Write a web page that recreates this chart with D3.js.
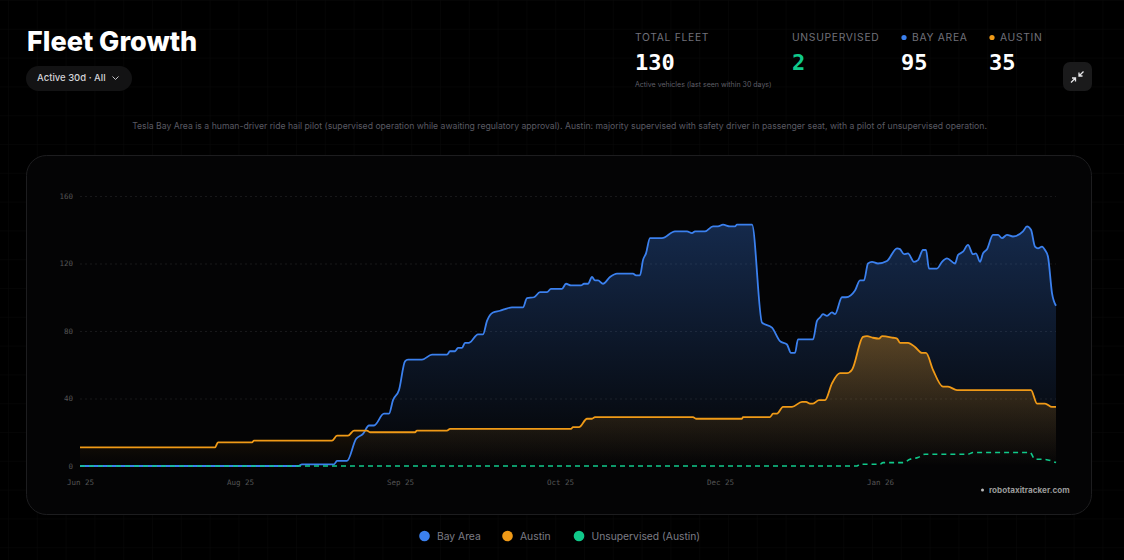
<!DOCTYPE html>
<html>
<head>
<meta charset="utf-8">
<script src="https://cdn.jsdelivr.net/npm/d3@7"></script>
<style>
  html, body { margin: 0; padding: 0; background: #000; width: 1124px; height: 560px; overflow: hidden; }
  text { font-family: Inter, sans-serif; }
  .mono { font-family: "DejaVu Sans Mono", monospace; }
</style>
</head>
<body>
<svg id="chart" width="1124" height="560"></svg>
<script>
// sample number along the x axis (one sample every 4px in the original) and value
const bayDays = [0,54.5,55.5,63.5,64.25,66.75,69,70.75,72.25,73.5,76,77.25,78.25,79.75,81.25,82,85.5,88,91.75,92.5,93.75,94.5,95.5,96.25,97.25,99.5,100.75,101.75,103.25,105,106.25,108,110.75,111.75,113.5,115,116.75,117.75,120.5,121.5,122.75,125.25,126,127,128,128.75,129.5,130.75,132.5,134.25,138.25,139,140,140.75,141.5,142.5,145.5,148.75,151.75,153,153.75,156.25,158.25,159.5,160.75,162.5,163.75,164.25,168,170.5,173,175,176.75,177.75,178.75,179.5,183.25,184.25,185,185.75,186.75,188,188.75,190.5,191.5,193.75,195,196,197,198,199.5,201.75,204.25,205,206,207,208.5,209.5,210.75,211.5,212.25,214.25,215.5,216.75,218.75,219.5,220.75,222,223.25,224,225,225.75,226.75,228.25,229.5,230.5,231.75,233.25,235.75,236.75,237.75,238.75,239.5,240.5,241.25,242,243,244];
const bayValues = [0,0,1,1,3,3,16,19,24,24,31,31,39,45,62,63,63,66,66,68,68,70,70,73,73,78,78,86,91,92,93,94,94,99.5,100,103,103,105,105,108,107,107,108,108,112,110,110,108,112,114,114,113,113,122,126,135,135,139,139,138,139,139,142,142,143,142,142,143,143,85,82,74,72,67,67,75,75,86,88,90,89,91,90,100,100,104,110,110,120,121,120,121.5,129,128.5,125.5,126,121,122,128,128,117,117,121,123,120,125,127,131,125.5,126,121,126,128.5,137,137,135,137,136,139,142,140,130,129,130,128,124,102.5,95];

const austinDays = [0,33.75,34.5,43,43.5,63,64.25,67,68.5,71.75,72.5,83.75,84.25,91.75,92.5,122.75,123.25,124.75,126.75,128,128.75,153.25,154,165.5,165.75,172.5,173.25,174.25,175.75,178,180.5,181.5,182.5,183.25,184.75,186.25,188,190,191.75,193,195.75,196.75,198.25,199.75,200.5,203.25,204.25,205,207,208.75,210.5,211.5,213.25,215.75,217,219.25,237.75,239.25,241.25,243,244];
const austinValues = [11,11,14,14,15,15,18,18,21,21,20,20,21,21,22,22,23,23,28,28,29,29,28,28,29,29,31,31,35,35,38,38,37,37,39,39,49,55,55,57,76.5,77,76,75.5,77,76,75.5,73,73,70.5,67,67,57,47,47,45,45,37,37,35,35];

const unsupDays = [0,194.25,195,200,200.75,205.75,207.5,209.5,211.25,222,223.25,237.5,238.75,240.75,244];
const unsupValues = [0,0,1,1,2,2,4,5,7,7,8,8,4,4,2];

const xTickDays = [0,40,80,120,160,200];
const xTickLabels = ["Jun 25","Aug 25","Sep 25","Oct 25","Dec 25","Jan 26"];
const yTicks = [0,40,80,120,160];

const statLabels = ["TOTAL FLEET","UNSUPERVISED","BAY AREA","AUSTIN"];
const statValues = ["130","2","95","35"];
const legendLabels = ["Bay Area","Austin","Unsupervised (Austin)"];

const BLUE = "#3b80ee", ORANGE = "#f09a17", GREEN = "#10c98a";

const svg = d3.select("#chart");
const defs = svg.append("defs");

// faint page grid
const grid = defs.append("pattern").attr("id", "pageGrid").attr("x", 8)
  .attr("width", 28.8).attr("height", 28.8).attr("patternUnits", "userSpaceOnUse");
grid.append("path").attr("d", "M28.8 0H0V28.8").attr("fill", "none").attr("stroke", "#090909");
svg.append("rect").attr("width", 1124).attr("height", 560).attr("fill", "#000");
svg.append("rect").attr("width", 1124).attr("height", 560).attr("fill", "url(#pageGrid)");

function gradient(id, color, top) {
  const g = defs.append("linearGradient").attr("id", id)
    .attr("x1", 0).attr("y1", 0).attr("x2", 0).attr("y2", 1);
  g.append("stop").attr("offset", "0%").attr("stop-color", color).attr("stop-opacity", top);
  g.append("stop").attr("offset", "100%").attr("stop-color", color).attr("stop-opacity", 0);
}
gradient("bayFill", BLUE, 0.3);
gradient("austinFill", ORANGE, 0.33);

// header
svg.append("text").attr("x", 27).attr("y", 51).text("Fleet Growth")
  .attr("font-size", 27).attr("font-weight", 800).attr("fill", "#fff");
svg.append("rect").attr("x", 26).attr("y", 66).attr("width", 106).attr("height", 25)
  .attr("rx", 12.5).attr("fill", "#131314");
svg.append("text").attr("x", 37).attr("y", 81).text("Active 30d · All")
  .attr("font-size", 9.5).attr("font-weight", 500).attr("fill", "#d4d4d8");
svg.append("path").attr("d", "M112.5 76.5l3 3 3-3").attr("fill", "none")
  .attr("stroke", "#c4c4c8").attr("stroke-width", 1);

const statX = [635, 792, 901, 989];
statLabels.forEach((s, i) => {
  const dotted = i >= 2;
  svg.append("text").attr("x", statX[i] + (dotted ? 11 : 0)).attr("y", 41).text(s)
    .attr("font-size", 10.3).attr("letter-spacing", 0.7).attr("fill", "#71717a");
  if (dotted) svg.append("circle").attr("cx", statX[i] + 3).attr("cy", 37.5).attr("r", 2.6)
    .attr("fill", i === 2 ? BLUE : ORANGE);
  svg.append("text").attr("class", "mono").attr("x", statX[i]).attr("y", 70).text(statValues[i])
    .attr("font-size", 22).attr("font-weight", 700).attr("fill", i === 1 ? GREEN : "#fff");
});
svg.append("text").attr("x", 635).attr("y", 87).text("Active vehicles (last seen within 30 days)")
  .attr("font-size", 7).attr("fill", "#5f5f67");

// collapse button
svg.append("rect").attr("x", 1063).attr("y", 62).attr("width", 29).attr("height", 29)
  .attr("rx", 7).attr("fill", "#1a1a1b");
svg.append("path").attr("d", "M1071 82.5l4.5-4.5M1072 78h3.5v3.5M1083.5 71.5l-4.5 4.5M1082.5 76h-3.5v-3.5")
  .attr("fill", "none").attr("stroke", "#e4e4e7").attr("stroke-width", 1.3);

svg.append("text").attr("x", 559.5).attr("y", 129).attr("text-anchor", "middle")
  .text("Tesla Bay Area is a human-driver ride hail pilot (supervised operation while awaiting regulatory approval). Austin: majority supervised with safety driver in passenger seat, with a pilot of unsupervised operation.")
  .attr("font-size", 8.67).attr("fill", "#5a5a63");

// chart panel
svg.append("rect").attr("x", 26.5).attr("y", 155.5).attr("width", 1065).attr("height", 359)
  .attr("rx", 20).attr("fill", "#040405").attr("stroke", "#1d1d1f");

const x = d3.scaleLinear().domain([0, 244]).range([80, 1056]);
const y = d3.scaleLinear().domain([0, 160]).range([466, 196]);

// axes
const yAxis = d3.axisLeft(y).tickValues(yTicks).tickSize(0).tickPadding(7);
const gy = svg.append("g").attr("transform", "translate(80,0)").call(yAxis);
gy.select(".domain").remove();
gy.selectAll("text").attr("class", "mono").attr("font-size", 7.5).attr("fill", "#555");
gy.selectAll(".tick").filter(d => d > 0).append("line")
  .attr("x2", 976).attr("stroke", "#18181a").attr("stroke-dasharray", "2 3");

const xAxis = d3.axisBottom(x).tickValues(xTickDays)
  .tickFormat((d, i) => xTickLabels[i]).tickSize(0).tickPadding(14);
const gx = svg.append("g").attr("transform", "translate(0,466)").call(xAxis);
gx.select(".domain").remove();
gx.selectAll("text").attr("class", "mono").attr("font-size", 7.5).attr("fill", "#555");

// series
function rows(days, values) { return days.map((d, i) => [d, values[i]]); }
const line = d3.line().x(d => x(d[0])).y(d => y(d[1])).curve(d3.curveMonotoneX);
const area = d3.area().x(d => x(d[0])).y0(y(0)).y1(d => y(d[1])).curve(d3.curveMonotoneX);

const bay = rows(bayDays, bayValues);
const austin = rows(austinDays, austinValues);
const unsup = rows(unsupDays, unsupValues);

svg.append("path").datum(bay).attr("d", area).attr("fill", "url(#bayFill)");
svg.append("path").datum(austin).attr("d", area).attr("fill", "url(#austinFill)");
svg.append("path").datum(bay).attr("d", line).attr("fill", "none").attr("stroke", BLUE).attr("stroke-width", 1.8);
svg.append("path").datum(austin).attr("d", line).attr("fill", "none").attr("stroke", ORANGE).attr("stroke-width", 1.8);
svg.append("path").datum(unsup).attr("d", line).attr("fill", "none").attr("stroke", GREEN)
  .attr("stroke-width", 1.6).attr("stroke-dasharray", "5 4");

// watermark
svg.append("circle").attr("cx", 982.5).attr("cy", 490).attr("r", 1.5).attr("fill", "#bbb");
svg.append("text").attr("x", 989).attr("y", 493).text("robotaxitracker.com")
  .attr("font-size", 8.15).attr("font-weight", 700).attr("fill", "#9a9a9a");

// legend
const legendX = [424.5, 507.5, 579];
legendLabels.forEach((s, i) => {
  svg.append("circle").attr("cx", legendX[i]).attr("cy", 536).attr("r", 5.3)
    .attr("fill", [BLUE, ORANGE, GREEN][i]);
  svg.append("text").attr("x", legendX[i] + 12.5).attr("y", 540).text(s)
    .attr("font-size", 10.3).attr("fill", "#7c7c85");
});
</script>
</body>
</html>
